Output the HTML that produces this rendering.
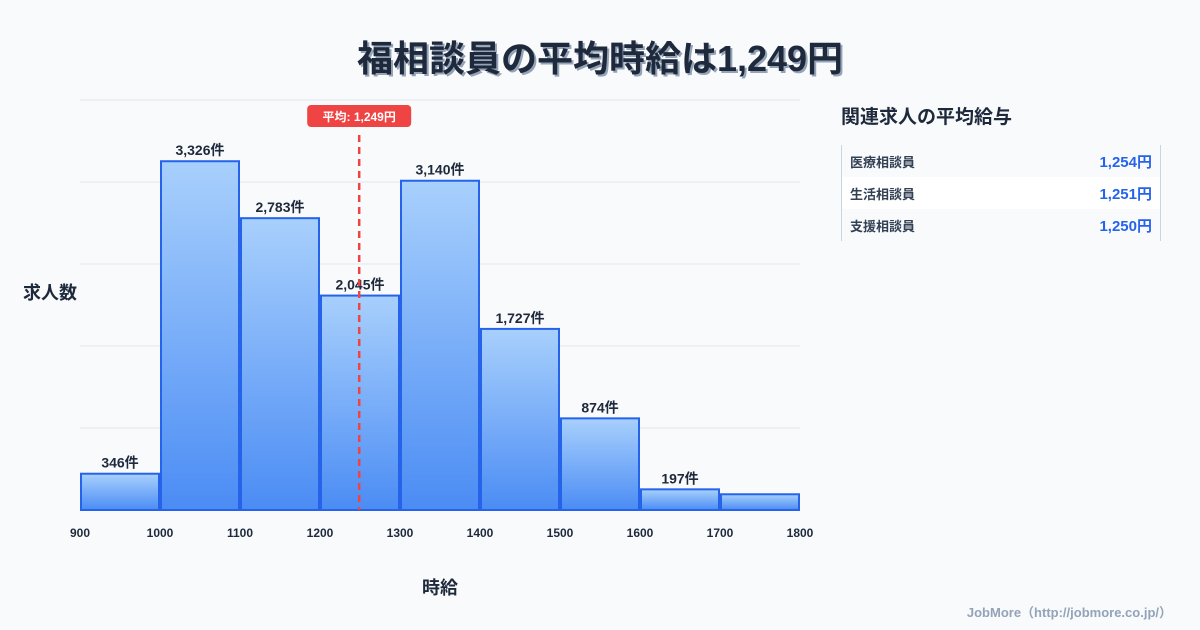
<!DOCTYPE html>
<html><head><meta charset="utf-8">
<style>
body{margin:0;width:1200px;height:630px;background:#f8fafc;font-family:"Liberation Sans","Noto Sans CJK JP",sans-serif;overflow:hidden;position:relative;color:#1e293b}
.title{position:absolute;top:30px;left:0;width:1200px;text-align:center;font-size:36px;font-weight:bold;color:#1e293b;text-shadow:2px 2px 0 #94a3b8}
.side-title{position:absolute;left:841px;top:102px;font-size:19px;font-weight:bold;color:#1e293b}
.panel{position:absolute;left:841px;top:145px;width:318px;border-left:1px solid #cbd5e1;border-right:1px solid #cbd5e1}
.row{height:32px;display:flex;justify-content:space-between;align-items:center;padding:0 8px;font-size:13px;font-weight:bold;color:#334155}
.row .v{color:#2563eb;font-size:15px}
.credit{position:absolute;right:28px;top:602px;font-size:13px;font-weight:bold;color:#94a3b8}
</style></head><body>
<div class="title">福相談員の平均時給は1,249円</div>
<svg id="chart" width="820" height="630" style="position:absolute;left:0;top:0">
<defs><linearGradient id="g" x1="0" y1="0" x2="0" y2="1"><stop offset="0" stop-color="#a8d0fc"/><stop offset="1" stop-color="#4b8cf4"/></linearGradient></defs>
</svg>
<div class="side-title">関連求人の平均給与</div>
<div class="panel">
<div class="row"><span>医療相談員</span><span class="v">1,254円</span></div>
<div class="row" style="background:#fff"><span>生活相談員</span><span class="v">1,251円</span></div>
<div class="row"><span>支援相談員</span><span class="v">1,250円</span></div>
</div>
<div class="credit">JobMore（http://jobmore.co.jp/）</div>
<script>
const binStarts=[900,1000,1100,1200,1300,1400,1500,1600,1700];
const counts=[346,3326,2783,2045,3140,1727,874,197,150];
const countLabels=["346件","3,326件","2,783件","2,045件","3,140件","1,727件","874件","197件",""];
const xTicks=[900,1000,1100,1200,1300,1400,1500,1600,1700,1800];
const meanValue=1249;
const meanLabel="平均: 1,249円";
const ns="http://www.w3.org/2000/svg";
const svg=document.getElementById('chart');
const X0=80,X1=800,Y0=510,Y1=100,xmin=900,xmax=1800,ymax=3910;
const xs=v=>X0+(v-xmin)/(xmax-xmin)*(X1-X0);
const ys=v=>Y0-v/ymax*(Y0-Y1);
function mk(t,a,txt){const e=document.createElementNS(ns,t);for(const k in a)e.setAttribute(k,a[k]);if(txt!==undefined)e.textContent=txt;svg.appendChild(e);return e;}
for(let i=0;i<=5;i++){const y=Y1+i*(Y0-Y1)/5;
const g=mk('line',{x1:X0,x2:X1,y1:y,y2:y,stroke:'#e2e8f0','stroke-width':1});

}
binStarts.forEach((b,i)=>{
const x=xs(b)+1,w=xs(b+100)-xs(b)-2,y=ys(counts[i]);
const r=mk('rect',{x:x,y:y,width:w,height:Y0-y,fill:'url(#g)',stroke:'#2563eb','stroke-width':2});


if(countLabels[i]){const t=mk('text',{x:x+w/2,y:y-6,'text-anchor':'middle','font-size':14,'font-weight':'bold',fill:'#1e293b'},countLabels[i]);

}
});
xTicks.forEach(v=>{const t=mk('text',{x:xs(v),y:537,'text-anchor':'middle','font-size':12,'font-weight':'bold',fill:'#1e293b'},v);

});
const mx=xs(meanValue);
const ml=mk('line',{x1:mx,x2:mx,y1:135,y2:Y0,stroke:'#ef4444','stroke-width':2.5,'stroke-dasharray':'7,5'});


const mb=mk('rect',{x:mx-52,y:105,width:104,height:22,rx:4,fill:'#ef4444'});


const mt=mk('text',{x:mx,y:121,'text-anchor':'middle','font-size':12,'font-weight':'bold',fill:'#fff'},meanLabel);


const xt=mk('text',{x:440,y:594,'text-anchor':'middle','font-size':18,'font-weight':'bold',fill:'#1e293b'},'時給');


const yt=mk('text',{x:50,y:299,'text-anchor':'middle','font-size':18,'font-weight':'bold',fill:'#1e293b'},'求人数');


</script>
</body></html>
